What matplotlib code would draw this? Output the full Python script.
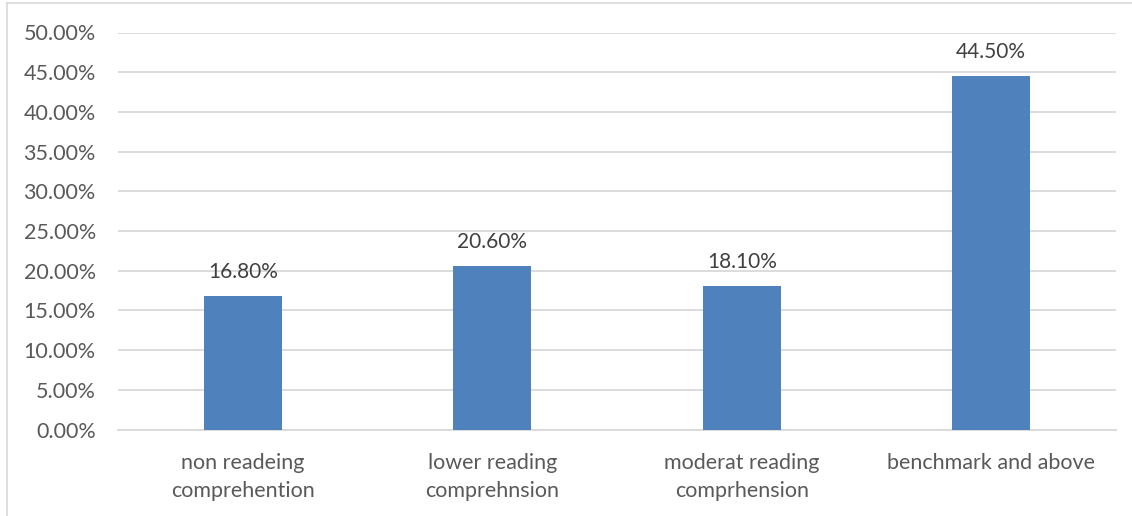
import matplotlib.pyplot as plt
from matplotlib.lines import Line2D
from matplotlib.ticker import FuncFormatter, MultipleLocator

categories = ['non readeing\ncomprehention', 'lower reading\ncomprehnsion',
              'moderat reading\ncomprhension', 'benchmark and above']
values = [16.8, 20.6, 18.1, 44.5]

plt.rcParams['font.family'] = ['Lato', 'DejaVu Sans']
text_grey = '#595959'

fig = plt.figure(figsize=(11.32, 5.16), dpi=100)
ax = fig.add_axes([118 / 1132, 1 - 429.5 / 516, 998 / 1132, 397 / 516])

x = range(len(categories))
bars = ax.bar(x, values, width=0.313, color='#4f81bd', zorder=3)
for b, v in zip(bars, values):
    ax.text(b.get_x() + b.get_width() / 2, v + 1.75, f'{v:.2f}%',
            ha='center', va='bottom', fontsize=15, color='#404040')

ax.set_xlim(-0.5, len(categories) - 0.5)
ax.set_ylim(0, 50)
ax.yaxis.set_major_locator(MultipleLocator(5))
ax.yaxis.set_major_formatter(FuncFormatter(lambda v, p: f'{v:.2f}%'))
ax.set_xticks(list(x))
ax.set_xticklabels(categories, linespacing=1.5)
ax.tick_params(axis='both', length=0, labelsize=15.5, labelcolor=text_grey)
ax.tick_params(axis='y', pad=16)
ax.tick_params(axis='x', pad=17)
ax.grid(axis='y', color='#d9d9d9', linewidth=1.3, zorder=0)
for side in ['top', 'right', 'left']:
    ax.spines[side].set_visible(False)
ax.spines['bottom'].set_color('#d9d9d9')
ax.spines['bottom'].set_linewidth(1.3)

# chart area frame (left and top edges)
fig.add_artist(Line2D([7 / 1132, 7 / 1132], [0, 1 - 3 / 516], color='#d9d9d9', lw=1.2))
fig.add_artist(Line2D([7 / 1132, 1], [1 - 3 / 516, 1 - 3 / 516], color='#d9d9d9', lw=1.2))

fig.savefig('out.png', dpi=100)
